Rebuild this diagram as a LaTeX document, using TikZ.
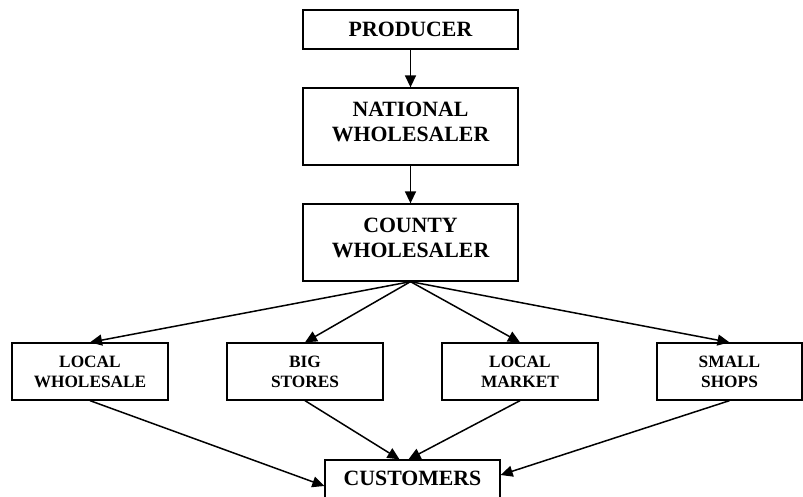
\documentclass[tikz,border=0pt]{standalone}
\usepackage{fontspec}
\setmainfont{Liberation Serif}
\usetikzlibrary{arrows.meta}
\begin{document}
\begin{tikzpicture}[x=1pt,y=-1pt,
  bigbox/.style={draw, line width=1.3pt, minimum width=215pt, inner sep=0pt, align=center, font=\fontsize{21.8}{25}\selectfont\bfseries},
  bigtext/.style={inner sep=0pt, align=center, font=\fontsize{21.8}{25}\selectfont\bfseries},
  smallbox/.style={draw, line width=1.3pt, minimum width=156pt, minimum height=57pt, inner sep=0pt, align=center, font=\fontsize{17.3}{20}\selectfont\bfseries},
  arr/.style={line width=1.5pt, -{Triangle[length=12pt,width=11pt]}}]
\useasboundingbox (0,0) rectangle (803,497);
\node[bigbox, minimum height=39pt] (prod) at (410.5,29.5) {PRODUCER};
\node[bigbox, minimum height=77pt] (nat) at (410.5,126.5) {};
\node[bigtext] (natt) at ([yshift=4.5pt]nat.center) {NATIONAL\\WHOLESALER};
\node[bigbox, minimum height=77pt] (cty) at (410.5,242.5) {};
\node[bigtext] (ctyt) at ([yshift=4.5pt]cty.center) {COUNTY\\WHOLESALER};
\node[smallbox] (lw) at (90,371.5) {LOCAL\\WHOLESALE};
\node[smallbox] (bs) at (305,371.5) {BIG\\STORES};
\node[smallbox] (lm) at (520,371.5) {LOCAL\\MARKET};
\node[smallbox, minimum width=145pt] (ss) at (729.5,371.5) {SMALL\\SHOPS};
\node[bigbox, minimum width=175pt, minimum height=40pt] (cust) at (412.5,480) {};
\node[bigtext] (custt) at (412.5,478) {CUSTOMERS};
\draw[arr] (prod.south) -- (nat.north);
\draw[arr] (nat.south) -- (cty.north);
\draw[arr] (cty.south) -- (lw.north);
\draw[arr] (cty.south) -- (bs.north);
\draw[arr] (cty.south) -- (lm.north);
\draw[arr] (cty.south) -- (ss.north);
\draw[arr] (lw.south) -- ([yshift=-6pt]cust.west);
\draw[arr] (bs.south) -- ([xshift=-13pt]cust.north);
\draw[arr] (lm.south) -- ([xshift=-4pt]cust.north);
\draw[arr] (ss.south) -- ([yshift=5pt]cust.east);
\end{tikzpicture}
\end{document}
